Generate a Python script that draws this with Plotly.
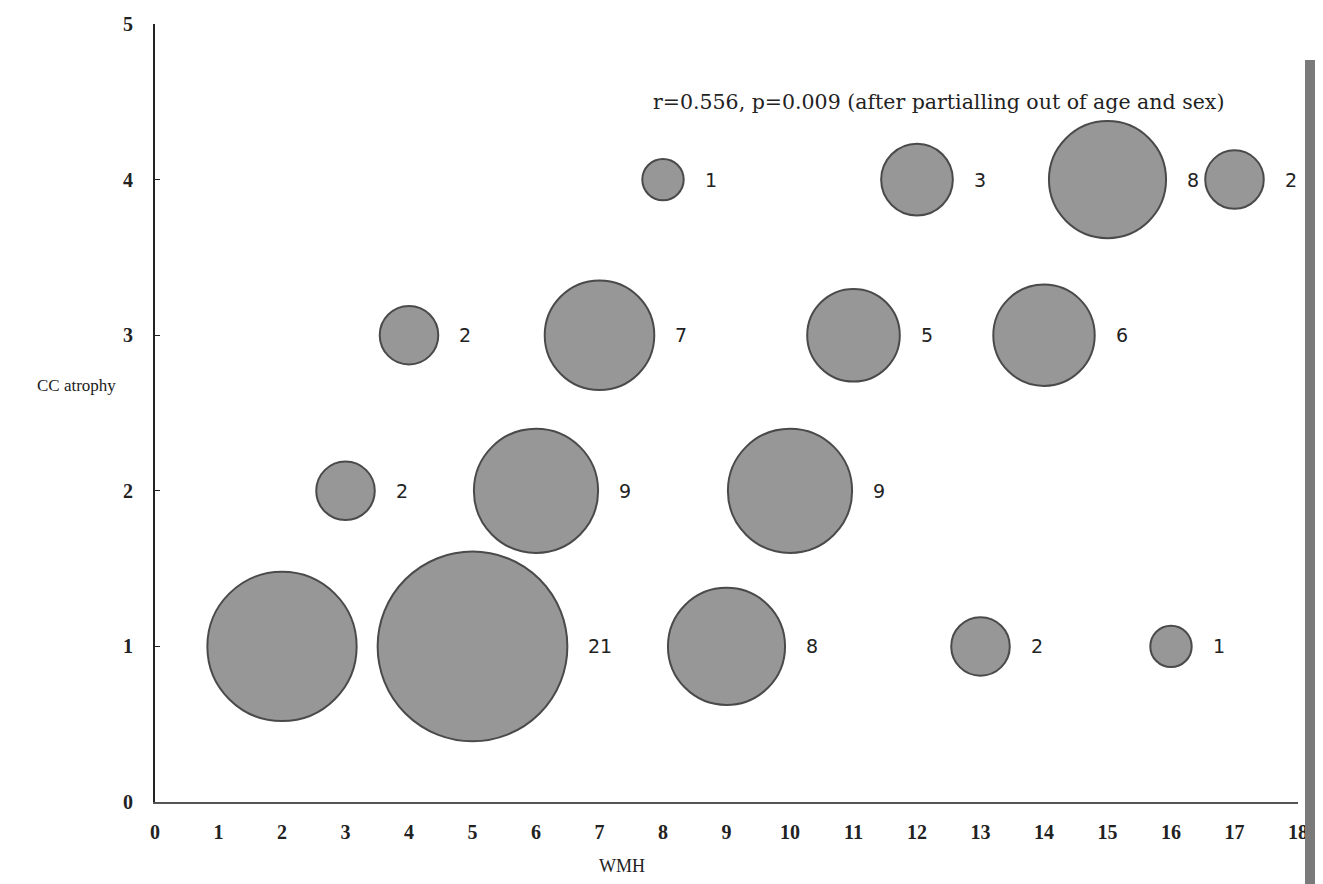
import plotly.graph_objects as go
import math

# Data: WMH (x), CC atrophy (y), number of subjects (bubble size)
wmh = [2, 5, 9, 13, 16, 3, 6, 10, 4, 7, 11, 14, 8, 12, 15, 17]
cc_atrophy = [1, 1, 1, 1, 1, 2, 2, 2, 3, 3, 3, 3, 4, 4, 4, 4]
counts = [13, 21, 8, 2, 1, 2, 9, 9, 2, 7, 5, 6, 1, 3, 8, 2]
show_label = [False, True, True, True, True, True, True, True, True, True, True, True, True, True, True, True]

x_ticks = list(range(0, 19))
y_ticks = list(range(0, 6))
stat_text = "r=0.556, p=0.009 (after partialling out of age and sex)"

OFF = 8  # default page body margin
W, H = 1323 - OFF, 884 - OFF
# plot area in page pixels: left 155, right 1298, top 24, bottom 802
L, T = 155 - OFF, 24 - OFF
R, B = W - (1298 - OFF), H - (802 - OFF)
PW, PH = W - L - R, H - T - B


def px_x(page_x):
    return (page_x - OFF - L) / PW


def px_y(page_y):
    return (H - B - (page_y - OFF)) / PH


r1 = 20.7  # radius in px for a count of 1
sizeref = 2.0 / (2 * r1) ** 2

fig = go.Figure()
fig.add_trace(go.Scatter(
    x=wmh, y=cc_atrophy, mode="markers",
    marker=dict(size=counts, sizemode="area", sizeref=sizeref,
                color="#979797", opacity=1,
                line=dict(color="#4a4a4a", width=2)),
    hoverinfo="skip", showlegend=False,
))

serif = "Liberation Serif, DejaVu Serif, serif"
for xv, yv, c, s in zip(wmh, cc_atrophy, counts, show_label):
    if not s:
        continue
    r = r1 * math.sqrt(c)
    fig.add_annotation(x=xv, y=yv, text=str(c), showarrow=False,
                       xanchor="left", yanchor="middle", xshift=r + 19,
                       font=dict(family="DejaVu Sans, Verdana, sans-serif", size=19, color="#222"))

fig.add_annotation(xref="paper", yref="paper", x=px_x(651), y=px_y(102),
                   xanchor="left", yanchor="middle", text=stat_text, showarrow=False,
                   font=dict(family="DejaVu Serif, serif", size=20.5, color="#222"))
fig.add_annotation(xref="paper", yref="paper", x=px_x(118), y=px_y(385),
                   xanchor="right", yanchor="middle", text="CC atrophy", showarrow=False,
                   font=dict(family=serif, size=17, color="#222"))
fig.add_annotation(xref="paper", yref="paper", x=px_x(622), y=px_y(866),
                   xanchor="center", yanchor="middle", text="WMH", showarrow=False,
                   font=dict(family=serif, size=18, color="#222"))

# scan edge strip on the right
fig.add_shape(type="rect", xref="paper", yref="paper",
              x0=px_x(1305), x1=px_x(1330), y0=px_y(890), y1=px_y(60),
              fillcolor="#7a7a7a", line=dict(width=0), layer="above")

fig.update_layout(
    width=W, height=H,
    margin=dict(l=L, r=R, t=T, b=B),
    plot_bgcolor="white", paper_bgcolor="white",
    xaxis=dict(range=[0, 18], tickvals=x_ticks, ticktext=[str(v) for v in x_ticks],
               showgrid=False, zeroline=False, showline=True, linecolor="#555", linewidth=2,
               ticks="", ticklabelstandoff=11, automargin=False,
               tickfont=dict(family=serif, size=20, color="#222", weight="bold")),
    yaxis=dict(range=[0, 5], tickvals=y_ticks, ticktext=[str(v) for v in y_ticks],
               showgrid=False, zeroline=False, showline=True, linecolor="#222", linewidth=2,
               ticks="inside", ticklen=5, tickcolor="#222", ticklabelstandoff=16, automargin=False,
               tickfont=dict(family=serif, size=20, color="#222", weight="bold")),
)

fig.write_html("out.html")
